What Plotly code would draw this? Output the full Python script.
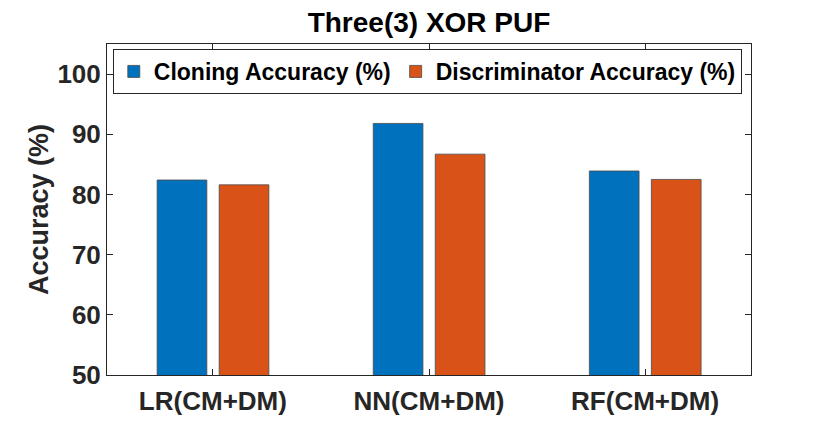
import plotly.graph_objects as go

categories = ["LR(CM+DM)", "NN(CM+DM)", "RF(CM+DM)"]
cloning_acc = [82.4, 91.8, 83.9]
discrim_acc = [81.6, 86.7, 82.5]
series_names = ["Cloning Accuracy (%)", "Discriminator Accuracy (%)"]
y_ticks = [50, 60, 70, 80, 90, 100]

FONT = "Liberation Sans"
AX = "#262626"
W, H = 830, 421

fig = go.Figure()
fig.add_trace(go.Bar(
    x=categories, y=cloning_acc, name="<b>" + series_names[0] + "</b>",
    marker=dict(color="#0072BD", line=dict(color="#4a4a4a", width=0.8)),
    width=0.23, offset=-0.258,
))
fig.add_trace(go.Bar(
    x=categories, y=discrim_acc, name="<b>" + series_names[1] + "</b>",
    marker=dict(color="#D95319", line=dict(color="#4a4a4a", width=0.8)),
    width=0.23, offset=0.029,
))

fig.update_layout(
    width=W, height=H,
    margin=dict(l=107, r=79, t=44, b=46, autoexpand=False),
    paper_bgcolor="white", plot_bgcolor="white",
    barmode="overlay",
    font=dict(family=FONT, color=AX),
    title=dict(text="<b>Three(3) XOR PUF</b>", x=(107 + 751) / 2 / W, xanchor="center",
               y=1 - 22 / H, yanchor="middle", font=dict(size=28, color="black", family=FONT)),
    legend=dict(
        orientation="h", x=0.009, y=0.985, xanchor="left", yanchor="top",
        bgcolor="white", bordercolor=AX, borderwidth=1,
        font=dict(size=23, color="black", family=FONT),
        itemwidth=30, tracegroupgap=0,
    ),
    showlegend=True,
)

fig.update_xaxes(
    type="category", range=[-0.49, 2.49], automargin=False,
    showline=True, linecolor=AX, linewidth=1, mirror="ticks",
    ticks="inside", ticklen=6, tickcolor=AX, tickwidth=1,
    tickfont=dict(size=26, family=FONT, color=AX),
    tickprefix="<b>", ticksuffix="</b>",
    showgrid=False, zeroline=False, ticklabelstandoff=3,
)
fig.update_yaxes(
    range=[50, 105], tickvals=y_ticks, ticktext=[f"<b>{v}</b>" for v in y_ticks],
    automargin=False,
    showline=True, linecolor=AX, linewidth=1, mirror="ticks",
    ticks="inside", ticklen=6, tickcolor=AX, tickwidth=1,
    tickfont=dict(size=26, family=FONT, color=AX),
    showgrid=False, zeroline=False,
    title=dict(text="<b>Accuracy (%)</b>", font=dict(size=27, family=FONT, color=AX), standoff=0),
)

fig.write_html("out.html", config={"displayModeBar": False},
               post_script="document.body.style.margin='0px';")
